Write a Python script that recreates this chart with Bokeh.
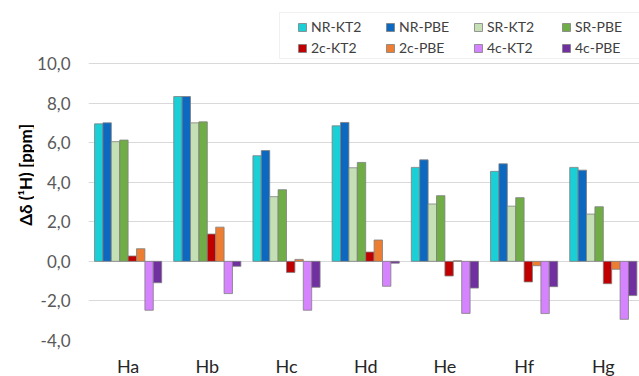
import math
import numpy as np
from bokeh.plotting import figure
from bokeh.layouts import row
from bokeh.models import Range1d, FixedTicker, Legend, LegendItem, BoxAnnotation, Label
from bokeh.embed import file_html
from bokeh.resources import INLINE

# Protons and the methods compared for each of them
categories = ["Ha", "Hb", "Hc", "Hd", "He", "Hf", "Hg"]
series_names = ["NR-KT2", "NR-PBE", "SR-KT2", "SR-PBE", "2c-KT2", "2c-PBE", "4c-KT2", "4c-PBE"]
series_colors = ["#1bcfd6", "#0d68c0", "#c5e0b4", "#70ad47", "#c00000", "#ed7d31", "#d583ff", "#7030a0"]

# Δδ(1H) in ppm, one list per method, in the order of categories
nr_kt2 = [6.95, 8.33, 5.34, 6.85, 4.75, 4.55, 4.75]
nr_pbe = [7.00, 8.33, 5.60, 7.02, 5.13, 4.93, 4.61]
sr_kt2 = [6.05, 7.00, 3.27, 4.73, 2.90, 2.79, 2.39]
sr_pbe = [6.13, 7.05, 3.62, 5.00, 3.32, 3.22, 2.76]
c2_kt2 = [0.27, 1.38, -0.56, 0.47, -0.74, -1.04, -1.13]
c2_pbe = [0.64, 1.73, 0.10, 1.08, 0.03, -0.22, -0.40]
c4_kt2 = [-2.47, -1.63, -2.47, -1.26, -2.63, -2.64, -2.93]
c4_pbe = [-1.08, -0.25, -1.31, -0.09, -1.35, -1.28, -1.73]
series_values = [nr_kt2, nr_pbe, sr_kt2, sr_pbe, c2_kt2, c2_pbe, c4_kt2, c4_pbe]

y_ticks = [-4, -2, 0, 2, 4, 6, 8, 10]
y_title = "Δδ (¹H) [ppm]"

FONT = "Lato"
n_cat = len(categories)
n_ser = len(series_names)
bar_w = 0.106

TOTAL_W, TOTAL_H = 639, 376
TITLE_W = 34
FRAME_LEFT = 88

# value axis runs -4..10 over 277 px; the frame continues up to the top
# edge so the legend sits inside it
px_per_unit = 277 / 14
frame_h = 340
y_top = -4 + frame_h / px_per_unit

# narrow strip carrying the rotated axis title
tfig = figure(width=TITLE_W, height=TOTAL_H, min_border=0,
              x_range=Range1d(0, TITLE_W), y_range=Range1d(0, TOTAL_H),
              output_backend="svg", toolbar_location=None,
              background_fill_color="white", border_fill_color="white")
tfig.axis.visible = False
tfig.grid.visible = False
tfig.outline_line_color = None
tfig.add_layout(Label(x=24.5, y=TOTAL_H - 195, text=y_title, angle=math.pi / 2,
                      text_align="center", text_baseline="middle",
                      text_font=FONT, text_font_size="17px", text_font_style="bold",
                      text_color="black"))

p = figure(
    frame_width=TOTAL_W - FRAME_LEFT, frame_height=frame_h,
    min_border_left=FRAME_LEFT - TITLE_W, min_border_right=0, min_border_top=0, min_border_bottom=36,
    x_range=Range1d(0, 6.957), y_range=Range1d(-4, y_top),
    output_backend="svg", toolbar_location=None,
    background_fill_color="white", border_fill_color="white",
)
p.outline_line_color = None

centers = np.arange(n_cat) + 0.5
items = []
for j, (name, color, vals) in enumerate(zip(series_names, series_colors, series_values)):
    xs = centers + (j - (n_ser - 1) / 2) * bar_w
    r = p.vbar(x=xs, top=vals, bottom=0, width=bar_w, fill_color=color,
               line_color="#7f7f7f", line_width=0.8)
    items.append(LegendItem(label=name, renderers=[r]))

# value axis
p.yaxis.ticker = FixedTicker(ticks=y_ticks)
p.yaxis.major_label_overrides = {t: f"{t:.1f}".replace(".", ",") for t in y_ticks}
p.yaxis.axis_line_color = None
p.yaxis.major_tick_line_color = None
p.yaxis.minor_tick_line_color = None
p.yaxis.major_tick_out = 0
p.yaxis.major_tick_in = 0
p.yaxis.major_label_standoff = 18
p.yaxis.major_label_text_font = FONT
p.yaxis.major_label_text_font_size = "17px"
p.yaxis.major_label_text_color = "#595959"

# category axis
p.xaxis.ticker = FixedTicker(ticks=list(centers))
p.xaxis.major_label_overrides = {float(c): lab for c, lab in zip(centers, categories)}
p.xaxis.axis_line_color = None
p.xaxis.major_tick_line_color = None
p.xaxis.minor_tick_line_color = None
p.xaxis.major_tick_out = 0
p.xaxis.major_tick_in = 0
p.xaxis.major_label_standoff = 14
p.xaxis.major_label_text_font = FONT
p.xaxis.major_label_text_font_size = "18px"
p.xaxis.major_label_text_color = "#262626"

p.xgrid.grid_line_color = None
p.ygrid.ticker = FixedTicker(ticks=y_ticks)
p.ygrid.grid_line_color = "#d9d9d9"
p.ygrid.grid_line_width = 1

# legend frame and legend (screen offsets from the frame's lower-left corner)
box = BoxAnnotation(left=191, right=600, top=frame_h - 12, bottom=frame_h - 58,
                    left_units="screen", right_units="screen",
                    top_units="screen", bottom_units="screen",
                    fill_color="white", fill_alpha=1.0,
                    line_color="#d0d0d0", line_width=1, level="underlay")
p.add_layout(box)

legend = Legend(items=items, orientation="horizontal", ncols=4,
                location=(209, frame_h - 56), padding=0, margin=0, spacing=4,
                glyph_width=10, glyph_height=10, label_standoff=4,
                label_width=70, label_height=17,
                label_text_font=FONT, label_text_font_size="14px",
                label_text_color="#404040",
                border_line_color=None, background_fill_alpha=0)
p.add_layout(legend, "center")

layout = row(tfig, p, spacing=0)
open("out.html", "w").write(file_html(layout, INLINE))
